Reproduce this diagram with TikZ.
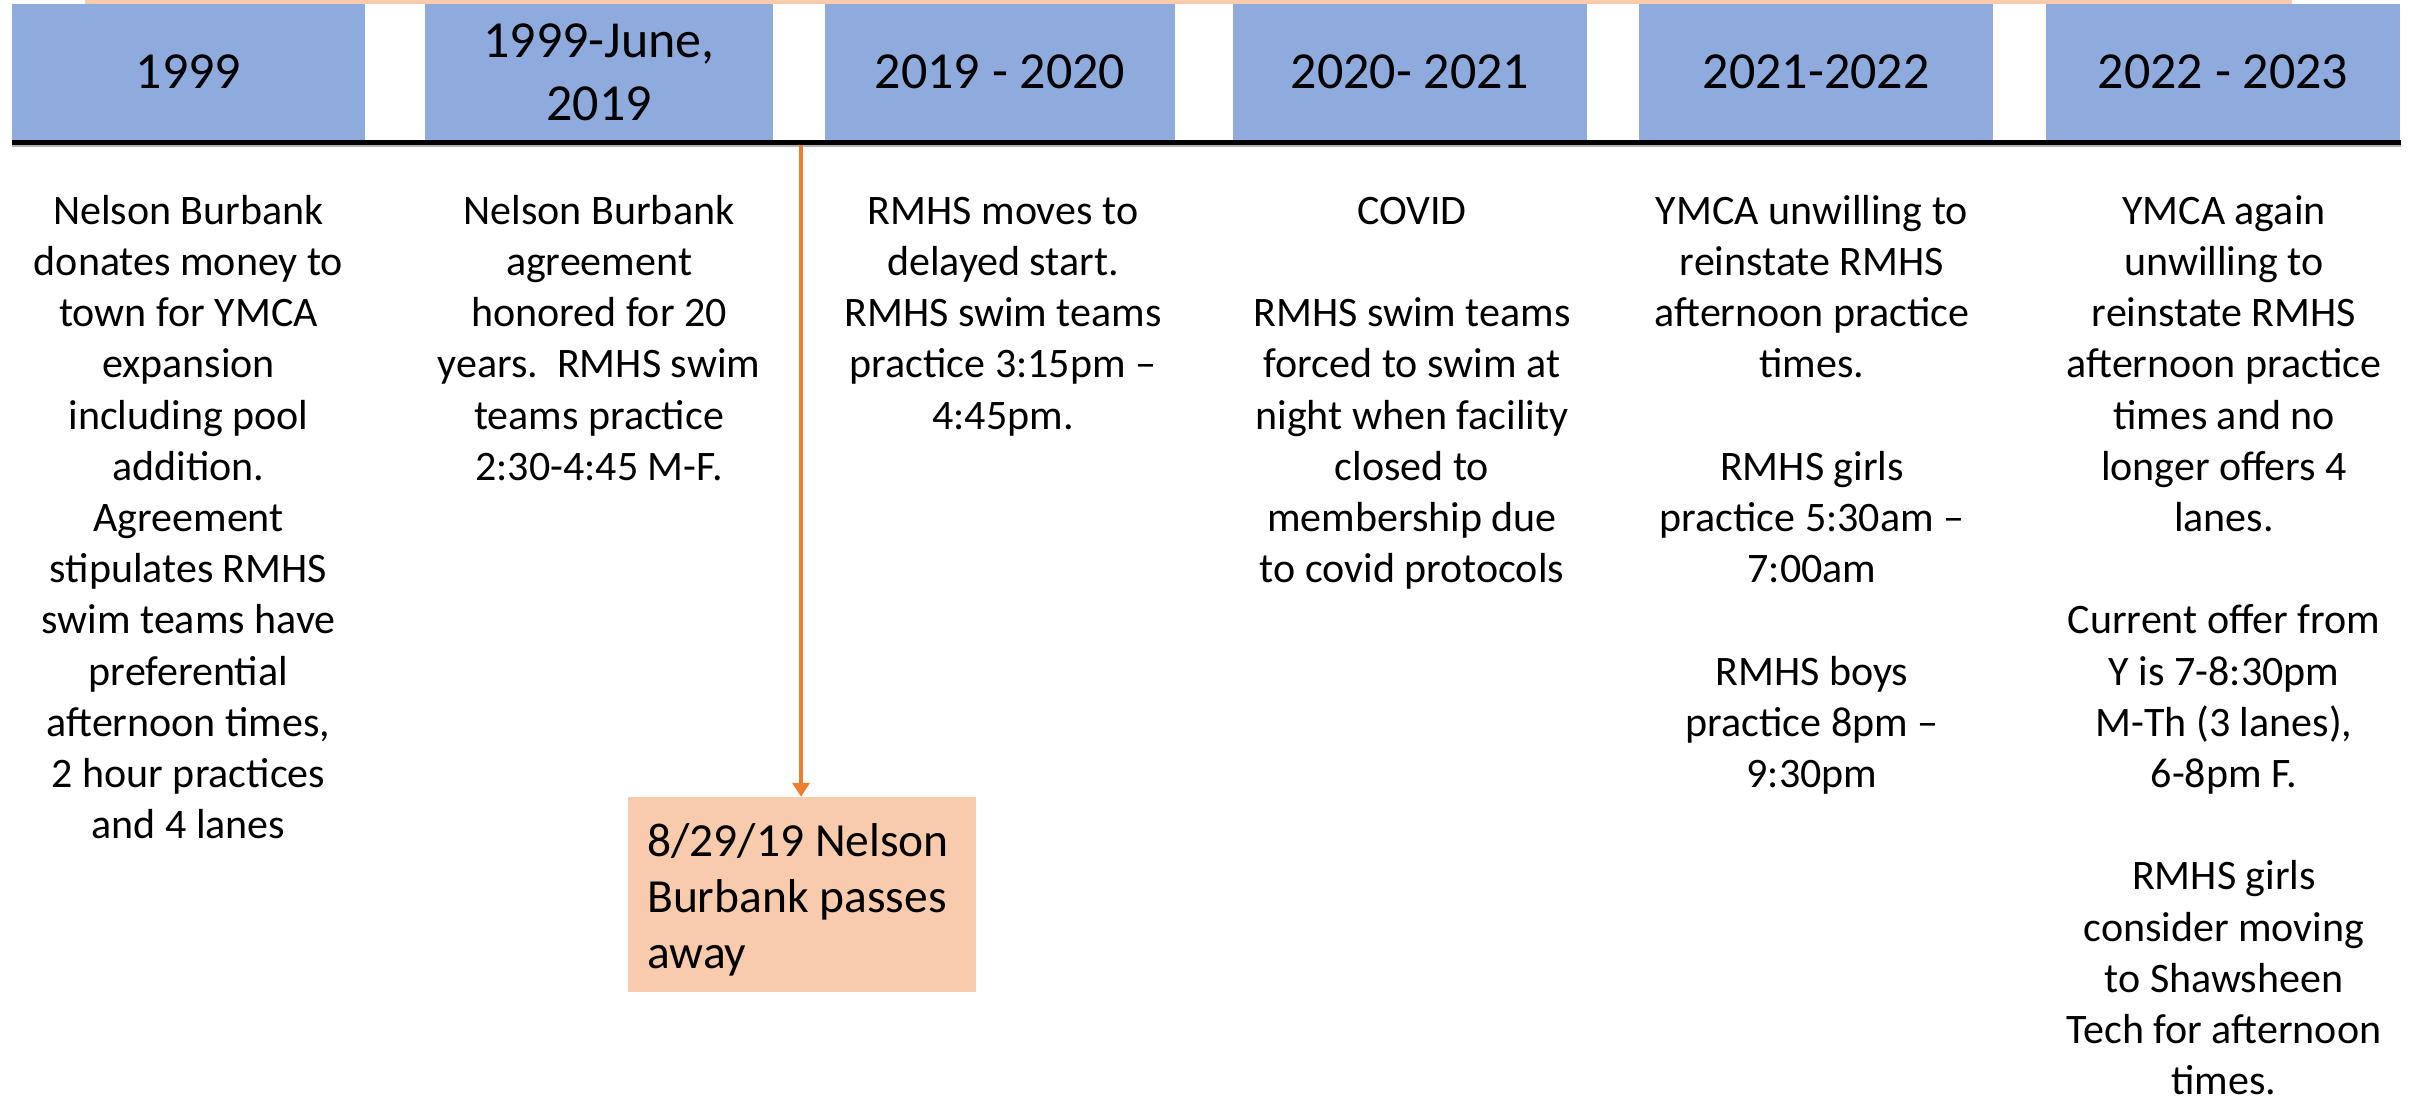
\documentclass[tikz,border=0pt]{standalone}
\usepackage{fontspec}
\setmainfont{Carlito}
\usetikzlibrary{arrows.meta}
\definecolor{hdrblue}{HTML}{8FAADC}
\definecolor{peach}{HTML}{F8CBAD}
\definecolor{arroworange}{HTML}{ED7D31}
\tikzset{
  hdr/.style={fill=hdrblue, draw=none, minimum height=136pt, inner sep=0pt, align=center,
              font=\fontsize{52}{63}\selectfont},
  body/.style={anchor=north, inner sep=0pt, align=center, font=\fontsize{42}{51.2}\selectfont},
  obox/.style={fill=peach, draw=none, minimum width=348pt, minimum height=195pt, inner sep=0pt},
  otext/.style={anchor=north west, inner sep=0pt, align=left, font=\fontsize{47.5}{56.3}\selectfont},
  timeline/.style={line width=5pt, black},
  arr/.style={arroworange, line width=4pt, -{Triangle[width=17pt,length=14pt]}}
}
\begin{document}
\begin{tikzpicture}[x=1pt,y=-1pt]
\useasboundingbox (0,0) rectangle (2412,1098);
% top bar
\fill[peach] (85,0) rectangle (2292,4);
% header boxes
\node[hdr, minimum width=353pt] (h1) at (188.5,72) {1999};
\node[hdr, minimum width=348pt] (h2) at (599,72) {1999-June,\\2019};
\node[hdr, minimum width=350pt] (h3) at (1000,72) {2019 - 2020};
\node[hdr, minimum width=354pt] (h4) at (1410,72) {2020- 2021};
\node[hdr, minimum width=354pt] (h5) at (1816,72) {2021-2022};
\node[hdr, minimum width=354pt] (h6) at (2223,72) {2022 - 2023};
% timeline
\coordinate (tl0) at (12,142.5);
\coordinate (tl1) at (2401,142.5);
\draw[gray!60, line width=2pt] ([yshift=-3.5pt]tl0) -- ([yshift=-3.5pt]tl1);
\draw[timeline] (tl0) -- (tl1);
% column texts
\node[body] (t1) at (188.5,188.2) {\strut Nelson Burbank\\donates money to\\town for YMCA\\expansion\\including pool\\addition.\\Agreement\\stipulates RMHS\\swim teams have\\preferential\\afternoon times,\\2 hour practices\\and 4 lanes};
\node[body] (t2) at (599,188.2) {\strut Nelson Burbank\\agreement\\honored for 20\\years.\ \ RMHS swim\\teams practice\\2:30-4:45 M-F.};
\node[body] (t3) at (1003,188.2) {\strut RMHS moves to\\delayed start.\\RMHS swim teams\\practice 3:15pm –\\4:45pm.};
\node[body] (t4) at (1412,188.2) {\strut COVID\\\mbox{}\\RMHS swim teams\\forced to swim at\\night when facility\\closed to\\membership due\\to covid protocols};
\node[body] (t5) at (1812,188.2) {\strut YMCA unwilling to\\reinstate RMHS\\afternoon practice\\times.\\\mbox{}\\RMHS girls\\practice 5:30am –\\7:00am\\\mbox{}\\RMHS boys\\practice 8pm –\\9:30pm};
\node[body] (t6) at (2224,188.2) {\strut YMCA again\\unwilling to\\reinstate RMHS\\afternoon practice\\times and no\\longer offers 4\\lanes.\\\mbox{}\\Current offer from\\Y is 7-8:30pm\\M-Th (3 lanes),\\6-8pm F.\\\mbox{}\\RMHS girls\\consider moving\\to Shawsheen\\Tech for afternoon\\times.};
% death box
\node[obox] (death) at (802,894.5) {};
\node[otext] (deathtxt) at (647,816.5) {\strut 8/29/19 Nelson\\Burbank passes\\away};
\coordinate (tick) at (801,145);
\draw[arr] (tick) -- (tick |- death.north);
\end{tikzpicture}
\end{document}
